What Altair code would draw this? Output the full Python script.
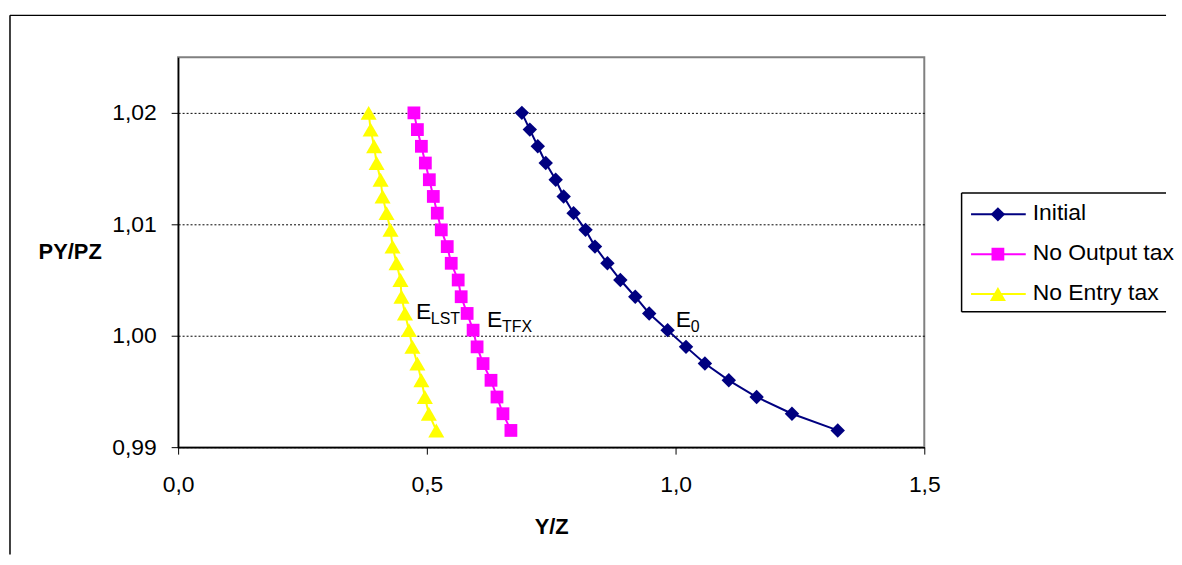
import altair as alt
import pandas as pd

# ---------------- data ----------------
series_names = ["Initial", "No Output tax", "No Entry tax"]
series_colors = ["#000080", "#FF00FF", "#FFFF00"]
series_shapes = ["diamond", "square", "triangle-up"]
series_sizes = [210, 165, 260]

py_pz = [1.0200, 1.0185, 1.0170, 1.0155, 1.0140, 1.0125, 1.0110, 1.0095, 1.0080, 1.0065,
         1.0050, 1.0035, 1.0020, 1.0005, 0.9990, 0.9975, 0.9960, 0.9945, 0.9930, 0.9915]
yz_initial = [0.691, 0.707, 0.723, 0.739, 0.759, 0.775, 0.795, 0.819, 0.838, 0.863,
              0.889, 0.919, 0.947, 0.984, 1.021, 1.059, 1.107, 1.163, 1.234, 1.326]
yz_no_output = [0.474, 0.481, 0.489, 0.497, 0.505, 0.513, 0.521, 0.529, 0.541, 0.549,
                0.563, 0.569, 0.581, 0.593, 0.601, 0.613, 0.629, 0.641, 0.653, 0.669]
yz_no_entry = [0.383, 0.387, 0.394, 0.399, 0.407, 0.411, 0.419, 0.427, 0.431, 0.439,
               0.447, 0.449, 0.456, 0.464, 0.471, 0.481, 0.489, 0.496, 0.504, 0.519]

x_ticks = [0.0, 0.5, 1.0, 1.5]
y_ticks = [0.99, 1.00, 1.01, 1.02]

ann_main = ["E", "E", "E"]
ann_sub = ["LST", "TFX", "0"]
ann_x = [0.478, 0.621, 1.0006]
ann_y = [1.0015, 1.0008, 1.0008]

# ---------------- tables ----------------
rows = []
for name, xs in zip(series_names, [yz_initial, yz_no_output, yz_no_entry]):
    for i, (xv, yv) in enumerate(zip(xs, py_pz)):
        rows.append({"series": name, "idx": i, "yz": xv, "pypz": yv})
df = pd.DataFrame(rows)
ann_df = pd.DataFrame({"main": ann_main, "sub": ann_sub, "x": ann_x, "y": ann_y})
one = pd.DataFrame({"k": [0]})

FONT = "Liberation Sans, Arial, sans-serif"
W, H = 750, 392
RIGHT = 993   # right limit of drawing (relative to plot origin)
BOTTOM = 500  # bottom limit of drawing

xscale = alt.Scale(domain=[0, 1.5], nice=False, zero=False)
yscale = alt.Scale(domain=[0.99, 1.025], nice=False, zero=False)
cscale = alt.Scale(domain=series_names, range=series_colors)

x_enc = alt.X("yz:Q", scale=xscale, axis=alt.Axis(
    values=x_ticks, labelExpr="replace(format(datum.value, '.1f'), '.', ',')",
    title="Y/Z", grid=False, tickSize=7, labelPadding=20,
    titleY=80, titleBaseline="middle"))
y_enc = alt.Y("pypz:Q", scale=yscale, axis=alt.Axis(
    values=y_ticks, labelExpr="replace(format(datum.value, '.2f'), '.', ',')",
    title="PY/PZ", grid=True, tickSize=7, labelPadding=15,
    titleAngle=0, titleX=-109, titleY=195, titleAlign="center", titleBaseline="middle"))


def hrule(x1, x2, y, w=1.5):
    return alt.Chart(one).mark_rule(color="black", strokeWidth=w, clip=False).encode(
        x=alt.value(x1), x2=alt.value(x2), y=alt.value(y))


def vrule(x, y1, y2, w=1.5):
    return alt.Chart(one).mark_rule(color="black", strokeWidth=w, clip=False).encode(
        x=alt.value(x), y=alt.value(y1), y2=alt.value(y2))


# outer frame (right and bottom edges fall outside the picture)
frame = [hrule(-169, RIGHT, -42), vrule(-169, -42, BOTTOM)]

lines = alt.Chart(df).mark_line(strokeWidth=2).encode(
    x=x_enc, y=y_enc,
    color=alt.Color("series:N", scale=cscale, legend=None),
    order="idx:Q")

point_layers = []
for name, col, shp, sz in zip(series_names, series_colors, series_shapes, series_sizes):
    point_layers.append(
        alt.Chart(df).transform_filter(alt.datum.series == name)
        .mark_point(filled=True, opacity=1, strokeWidth=1, color=col, shape=shp, size=sz)
        .encode(x="yz:Q", y="pypz:Q")
    )

ann_e = alt.Chart(ann_df).mark_text(font=FONT, fontSize=23, align="left", baseline="alphabetic",
                                    color="black").encode(
    x="x:Q", y="y:Q", text="main:N")
ann_s = alt.Chart(ann_df).mark_text(font=FONT, fontSize=16, align="left", baseline="alphabetic",
                                    color="black", dx=15, dy=5).encode(
    x="x:Q", y="y:Q", text="sub:N")

# legend (hand-built; its right edge lies outside the picture)
leg_layers = [hrule(787.5, RIGHT, 136.5), hrule(787.5, RIGHT, 256), vrule(787.5, 136.5, 256)]
for i, (name, col, shp, sz) in enumerate(zip(series_names, series_colors, series_shapes, series_sizes)):
    yy = 158 + 40 * i
    leg_layers.append(alt.Chart(one).mark_rule(color=col, strokeWidth=2, clip=False).encode(
        x=alt.value(797), x2=alt.value(852), y=alt.value(yy)))
    leg_layers.append(alt.Chart(one).mark_point(filled=True, color=col, shape=shp, size=sz,
                                                opacity=1, clip=False).encode(
        x=alt.value(824), y=alt.value(yy)))
    leg_layers.append(alt.Chart(pd.DataFrame({"t": [name]})).mark_text(
        font=FONT, fontSize=23, align="left", baseline="middle", color="black", clip=False).encode(
        x=alt.value(859), y=alt.value(yy - 1), text="t:N"))

chart = alt.layer(*frame, lines, *point_layers, ann_e, ann_s, *leg_layers).properties(
    width=W, height=H,
    padding={"left": 1, "top": 5, "right": 0, "bottom": 0},
    background="white",
).configure_view(
    stroke="#808080", strokeWidth=2
).configure_axis(
    labelFont=FONT, labelFontSize=23, labelColor="black",
    titleFont=FONT, titleFontSize=22, titleFontWeight="bold", titleColor="black",
    domainColor="black", domainWidth=1.5, tickColor="black", tickWidth=1,
    gridColor="black", gridDash=[2, 2], gridWidth=1, gridOpacity=1,
    labelOverlap=False, labelFlush=False
)

chart.save("out.html", embed_options={"renderer": "svg", "actions": False})
